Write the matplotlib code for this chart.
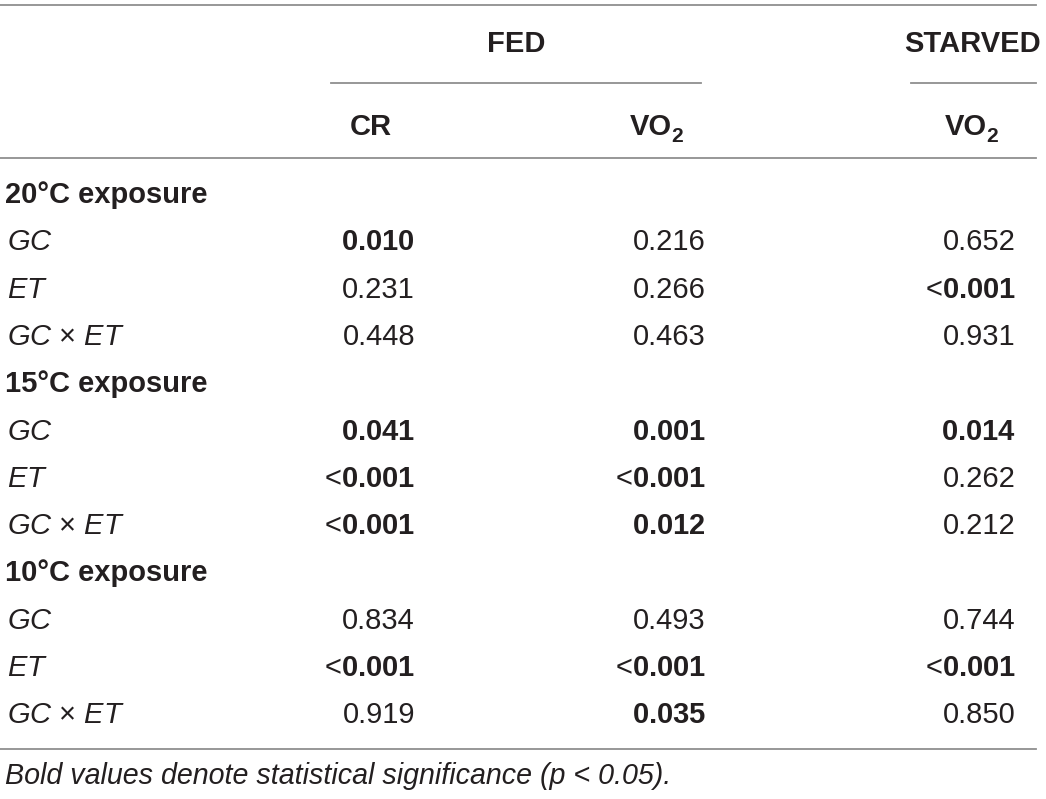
import matplotlib
matplotlib.use('Agg')
from matplotlib import pyplot as plt

plt.rcParams['font.family'] = ['Liberation Sans', 'DejaVu Sans']
plt.rcParams['mathtext.fontset'] = 'custom'
plt.rcParams['mathtext.rm'] = 'Liberation Sans'
plt.rcParams['mathtext.it'] = 'Liberation Sans:italic'
plt.rcParams['mathtext.bf'] = 'Liberation Sans:bold'

groups = ['20°C exposure', '15°C exposure', '10°C exposure']
effects = ['$GC$', '$ET$', '$GC$ × $ET$']
cr = ['0.010', '0.231', '0.448', '0.041', '<0.001', '<0.001', '0.834', '<0.001', '0.919']
fed_vo2 = ['0.216', '0.266', '0.463', '0.001', '<0.001', '0.012', '0.493', '<0.001', '0.035']
starved_vo2 = ['0.652', '<0.001', '0.931', '0.014', '0.262', '0.212', '0.744', '<0.001', '0.850']
note = 'Bold values denote statistical significance (p < 0.05).'

ink = '#231f20'
rule = '#8f8f8f'
fs = 21

fig = plt.figure(figsize=(10.46, 7.99), dpi=100)
ax = fig.add_axes([0, 0, 1, 1])
ax.set_xlim(0, 1046)
ax.set_ylim(799, 0)
ax.axis('off')


def cell(val):
    # bold when significant, the "<" stays regular
    if val.startswith('<'):
        return '<$\\mathbf{' + val[1:] + '}$'
    if float(val) < 0.05:
        return '$\\mathbf{' + val + '}$'
    return val


# rules
ax.plot([0, 1036], [5, 5], c=rule, lw=1.3)
ax.plot([331, 701], [83, 83], c=rule, lw=1.3)
ax.plot([911, 1036], [83, 83], c=rule, lw=1.3)
ax.plot([0, 1036], [158, 158], c=rule, lw=1.3)
ax.plot([0, 1036], [749, 749], c=rule, lw=1.3)

# header
hfont = dict(weight='bold', size=fs, color=ink)
ax.text(516, 44, 'FED', ha='center', va='center', **hfont)
ax.text(1041, 44, 'STARVED', ha='right', va='center', **hfont)
ax.text(371, 127, 'CR', ha='center', va='center', **hfont)
for xr in (672, 987):
    ax.text(xr, 127, 'VO', ha='right', va='center', **hfont)
    ax.text(xr - 1, 136, '2', ha='left', va='center', weight='bold', size=fs * 0.72, color=ink)

# body
col_x = [415, 706, 1016]
y = 195
step = 47.3
k = 0
for g in groups:
    ax.text(5, y, g, ha='left', va='center', weight='bold', size=fs, color=ink)
    y += step
    for e in effects:
        ax.text(7, y, e, ha='left', va='center', size=fs, color=ink)
        for xc, col in zip(col_x, (cr, fed_vo2, starved_vo2)):
            ax.text(xc, y, cell(col[k]), ha='right', va='center', size=fs, color=ink)
        k += 1
        y += step

ax.text(5, 776, note, ha='left', va='center', style='italic', size=fs * 0.98, color=ink)

fig.savefig('out.png', dpi=100)
